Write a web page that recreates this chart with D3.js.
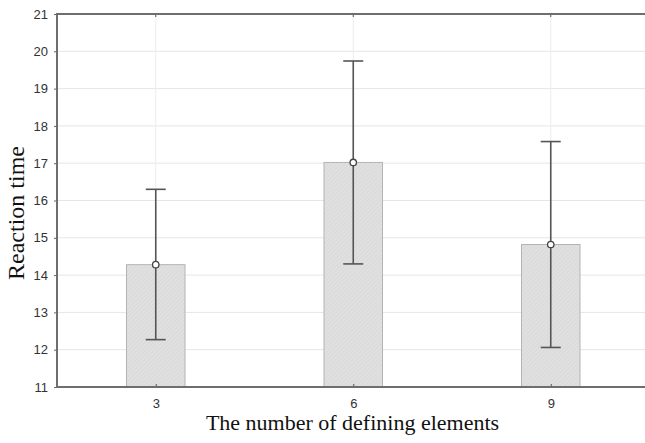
<!DOCTYPE html>
<html>
<head>
<meta charset="utf-8">
<script src="https://cdn.jsdelivr.net/npm/d3@7"></script>
<style>
  body { margin: 0; background: #fff; }
  svg { display: block; }
  .tick text { font-family: "Liberation Sans", Arial, sans-serif; font-size: 13px; fill: #333; }
  .axis-label { font-family: "Liberation Serif", "Times New Roman", serif; font-size: 22px; fill: #111; }
  .y-label { font-size: 24px; }
</style>
</head>
<body>
<svg width="645" height="443"></svg>
<script>
  // data
  const categories = ['3', '6', '9'];
  const means = [14.28, 17.02, 14.82];
  const lower = [12.27, 14.30, 12.06];
  const upper = [16.30, 19.74, 17.58];
  const yTicks = [11, 12, 13, 14, 15, 16, 17, 18, 19, 20, 21];

  const data = categories.map((c, i) => ({ c, mean: means[i], lo: lower[i], hi: upper[i] }));

  const svg = d3.select('svg');
  const margin = { top: 14, left: 57 };
  const innerWidth = 592.5;
  const innerHeight = 373;

  const g = svg.append('g')
    .attr('transform', `translate(${margin.left},${margin.top})`);

  const xScale = d3.scalePoint()
    .domain(categories)
    .range([0, innerWidth])
    .padding(0.5);

  const yScale = d3.scaleLinear()
    .domain([11, 21])
    .range([innerHeight, 0]);

  // hatch for the bars
  const defs = svg.append('defs');
  const pat = defs.append('pattern')
    .attr('id', 'hatch')
    .attr('patternUnits', 'userSpaceOnUse')
    .attr('width', 3).attr('height', 3)
    .attr('patternTransform', 'rotate(45)');
  pat.append('rect').attr('width', 3).attr('height', 3).attr('fill', '#e0e0e0');
  pat.append('line').attr('x1', 0).attr('y1', 0).attr('x2', 0).attr('y2', 3)
    .attr('stroke', '#d2d2d2').attr('stroke-width', 1);

  // grid
  g.append('g')
    .selectAll('line').data(yTicks.slice(1, -1))
    .enter().append('line')
      .attr('x1', 0).attr('x2', innerWidth)
      .attr('y1', d => yScale(d)).attr('y2', d => yScale(d))
      .attr('stroke', '#e6e6e6').attr('stroke-width', 1);
  g.append('g')
    .selectAll('line').data(categories)
    .enter().append('line')
      .attr('x1', d => xScale(d)).attr('x2', d => xScale(d))
      .attr('y1', 0).attr('y2', innerHeight)
      .attr('stroke', '#ececec').attr('stroke-width', 1);

  // bars
  const barWidth = 58.5;
  g.selectAll('.bar').data(data)
    .enter().append('rect')
      .attr('class', 'bar')
      .attr('x', d => xScale(d.c) - barWidth / 2)
      .attr('width', barWidth)
      .attr('y', d => yScale(d.mean))
      .attr('height', d => innerHeight - yScale(d.mean))
      .attr('fill', 'url(#hatch)')
      .attr('stroke', '#b4b4b4')
      .attr('stroke-width', 1);

  // error bars
  const capHalf = 10;
  const eb = g.selectAll('.err').data(data)
    .enter().append('g').attr('class', 'err')
      .attr('stroke', '#555').attr('stroke-width', 1.6);
  eb.append('line')
    .attr('x1', d => xScale(d.c)).attr('x2', d => xScale(d.c))
    .attr('y1', d => yScale(d.lo)).attr('y2', d => yScale(d.hi));
  eb.append('line')
    .attr('x1', d => xScale(d.c) - capHalf).attr('x2', d => xScale(d.c) + capHalf)
    .attr('y1', d => yScale(d.lo)).attr('y2', d => yScale(d.lo));
  eb.append('line')
    .attr('x1', d => xScale(d.c) - capHalf).attr('x2', d => xScale(d.c) + capHalf)
    .attr('y1', d => yScale(d.hi)).attr('y2', d => yScale(d.hi));
  eb.append('circle')
    .attr('cx', d => xScale(d.c)).attr('cy', d => yScale(d.mean))
    .attr('r', 3.2).attr('fill', '#fff').attr('stroke', '#444').attr('stroke-width', 1.3);

  // axes
  const yAxis = d3.axisLeft(yScale).tickValues(yTicks).tickSize(3).tickPadding(6);
  const yAxisG = g.append('g').call(yAxis);
  yAxisG.select('.domain').remove();
  yAxisG.selectAll('.tick line').attr('stroke', '#666');

  const xAxis = d3.axisBottom(xScale).tickSize(-3).tickPadding(12);
  const xAxisG = g.append('g')
    .attr('transform', `translate(0,${innerHeight})`)
    .call(xAxis);
  xAxisG.select('.domain').remove();
  xAxisG.selectAll('.tick line').attr('stroke', '#555');

  // small inward ticks on the top edge
  g.append('g')
    .selectAll('line').data(categories)
    .enter().append('line')
      .attr('x1', d => xScale(d)).attr('x2', d => xScale(d))
      .attr('y1', 0).attr('y2', 3)
      .attr('stroke', '#555');

  // frame
  g.append('path')
    .attr('d', `M${innerWidth},0H0V${innerHeight}H${innerWidth}`)
    .attr('fill', 'none')
    .attr('stroke', '#6e6e6e')
    .attr('stroke-width', 2);

  g.append('text')
    .attr('class', 'axis-label')
    .attr('x', 295.5)
    .attr('y', 416)
    .attr('text-anchor', 'middle')
    .text('The number of defining elements');

  g.append('text')
    .attr('class', 'axis-label y-label')
    .attr('transform', 'rotate(-90)')
    .attr('x', -199)
    .attr('y', -33)
    .attr('text-anchor', 'middle')
    .text('Reaction time');
</script>
</body>
</html>
